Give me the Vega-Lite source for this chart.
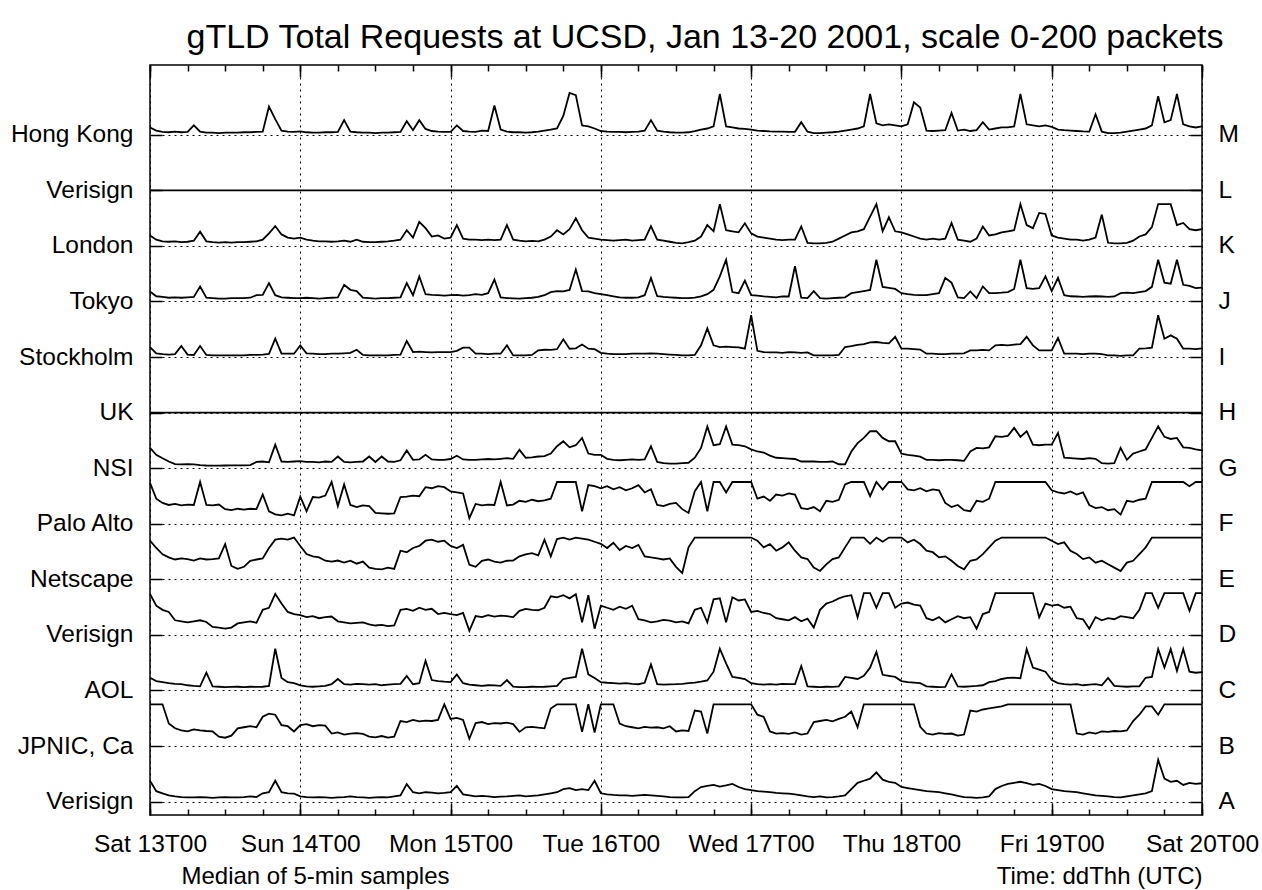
{
"$schema":"https://vega.github.io/schema/vega-lite/v6.json",
"width":1052,"height":750,"autosize":"none",
"padding":{"left":150,"top":65,"right":60,"bottom":75},
"background":"white",
"title":{"text":"gTLD Total Requests at UCSD, Jan 13-20 2001, scale 0-200 packets","fontSize":34,"font":"Liberation Sans","fontWeight":"normal","color":"black","anchor":"middle","frame":"group","dx":29,"baseline":"alphabetic","offset":-18},
"config":{"view":{"stroke":"black","strokeWidth":1.5},"axis":{"labelFont":"Liberation Sans","labelFontSize":24.5,"labelColor":"black","tickColor":"black","tickWidth":1.5,"domain":false,"titleFont":"Liberation Sans","titleFontSize":24,"titleFontWeight":"normal","titleColor":"black","labelFlush":false,"labelOverlap":false,"labelBound":false}},
"data":{"values":[
{"h":0,"A":100,"B":200,"C":61,"D":196,"E":185,"F":196,"G":97,"I":48,"J":48,"K":50,"M":35},
{"h":1,"A":50,"B":200,"C":45,"D":140,"E":150,"F":120,"G":64,"I":18,"J":25,"K":30,"M":20},
{"h":2,"A":40,"B":200,"C":40,"D":120,"E":120,"F":100,"G":48,"I":14,"J":22,"K":22,"M":14},
{"h":3,"A":30,"B":108,"C":35,"D":110,"E":105,"F":90,"G":32,"I":12,"J":18,"K":20,"M":12},
{"h":4,"A":25,"B":85,"C":32,"D":70,"E":95,"F":95,"G":20,"I":14,"J":20,"K":22,"M":15},
{"h":5,"A":22,"B":75,"C":30,"D":65,"E":100,"F":88,"G":18,"I":53,"J":18,"K":18,"M":12},
{"h":6,"A":20,"B":70,"C":25,"D":60,"E":97,"F":92,"G":19,"I":12,"J":20,"K":20,"M":14},
{"h":7,"A":20,"B":80,"C":22,"D":65,"E":90,"F":90,"G":18,"I":10,"J":22,"K":25,"M":45},
{"h":8,"A":22,"B":75,"C":20,"D":70,"E":100,"F":200,"G":15,"I":53,"J":72,"K":68,"M":15},
{"h":9,"A":20,"B":72,"C":85,"D":62,"E":95,"F":90,"G":13,"I":10,"J":18,"K":22,"M":10},
{"h":10,"A":18,"B":70,"C":20,"D":38,"E":97,"F":88,"G":12,"I":8,"J":16,"K":18,"M":10},
{"h":11,"A":20,"B":45,"C":18,"D":35,"E":100,"F":92,"G":12,"I":8,"J":14,"K":16,"M":8},
{"h":12,"A":22,"B":40,"C":16,"D":30,"E":169,"F":70,"G":13,"I":8,"J":14,"K":18,"M":10},
{"h":13,"A":20,"B":50,"C":17,"D":35,"E":64,"F":65,"G":14,"I":8,"J":16,"K":16,"M":10},
{"h":14,"A":20,"B":85,"C":18,"D":55,"E":50,"F":72,"G":14,"I":8,"J":16,"K":18,"M":10},
{"h":15,"A":22,"B":90,"C":16,"D":60,"E":60,"F":68,"G":14,"I":8,"J":16,"K":18,"M":12},
{"h":16,"A":25,"B":95,"C":18,"D":65,"E":89,"F":72,"G":15,"I":10,"J":18,"K":20,"M":12},
{"h":17,"A":22,"B":90,"C":17,"D":58,"E":95,"F":70,"G":30,"I":10,"J":30,"K":22,"M":14},
{"h":18,"A":40,"B":140,"C":18,"D":120,"E":100,"F":140,"G":32,"I":12,"J":32,"K":30,"M":15},
{"h":19,"A":45,"B":155,"C":22,"D":130,"E":150,"F":60,"G":28,"I":15,"J":88,"K":60,"M":135},
{"h":20,"A":100,"B":150,"C":200,"D":196,"E":190,"F":45,"G":113,"I":88,"J":30,"K":95,"M":75},
{"h":21,"A":45,"B":100,"C":60,"D":150,"E":195,"F":40,"G":32,"I":16,"J":20,"K":55,"M":20},
{"h":22,"A":40,"B":95,"C":40,"D":110,"E":190,"F":48,"G":30,"I":16,"J":18,"K":40,"M":15},
{"h":23,"A":38,"B":70,"C":35,"D":100,"E":200,"F":40,"G":32,"I":16,"J":16,"K":35,"M":14},
{"h":24,"A":25,"B":100,"C":25,"D":95,"E":160,"F":130,"G":34,"I":56,"J":16,"K":40,"M":16},
{"h":25,"A":22,"B":105,"C":20,"D":85,"E":121,"F":60,"G":30,"I":18,"J":18,"K":30,"M":12},
{"h":26,"A":20,"B":95,"C":18,"D":90,"E":110,"F":128,"G":30,"I":16,"J":16,"K":25,"M":10},
{"h":27,"A":22,"B":100,"C":20,"D":80,"E":105,"F":125,"G":28,"I":14,"J":14,"K":22,"M":10},
{"h":28,"A":20,"B":98,"C":22,"D":85,"E":89,"F":135,"G":32,"I":14,"J":16,"K":22,"M":12},
{"h":29,"A":18,"B":60,"C":30,"D":88,"E":85,"F":200,"G":30,"I":16,"J":18,"K":20,"M":12},
{"h":30,"A":20,"B":65,"C":55,"D":65,"E":90,"F":85,"G":56,"I":16,"J":20,"K":22,"M":14},
{"h":31,"A":22,"B":55,"C":30,"D":60,"E":80,"F":188,"G":30,"I":18,"J":80,"K":25,"M":70},
{"h":32,"A":25,"B":60,"C":28,"D":55,"E":89,"F":90,"G":28,"I":20,"J":56,"K":20,"M":15},
{"h":33,"A":22,"B":62,"C":32,"D":58,"E":75,"F":80,"G":30,"I":35,"J":50,"K":30,"M":12},
{"h":34,"A":20,"B":58,"C":30,"D":60,"E":85,"F":88,"G":32,"I":10,"J":18,"K":20,"M":10},
{"h":35,"A":18,"B":45,"C":28,"D":50,"E":56,"F":85,"G":56,"I":8,"J":16,"K":18,"M":10},
{"h":36,"A":20,"B":42,"C":30,"D":45,"E":50,"F":52,"G":30,"I":8,"J":14,"K":18,"M":8},
{"h":37,"A":22,"B":48,"C":25,"D":48,"E":48,"F":50,"G":56,"I":8,"J":16,"K":20,"M":10},
{"h":38,"A":20,"B":40,"C":28,"D":42,"E":56,"F":48,"G":32,"I":8,"J":16,"K":22,"M":10},
{"h":39,"A":25,"B":45,"C":30,"D":45,"E":50,"F":50,"G":30,"I":10,"J":18,"K":25,"M":12},
{"h":40,"A":30,"B":120,"C":32,"D":120,"E":137,"F":128,"G":38,"I":12,"J":20,"K":30,"M":14},
{"h":41,"A":84,"B":115,"C":70,"D":125,"E":130,"F":130,"G":85,"I":77,"J":88,"K":75,"M":65},
{"h":42,"A":45,"B":125,"C":30,"D":115,"E":150,"F":135,"G":40,"I":24,"J":30,"K":40,"M":22},
{"h":43,"A":40,"B":118,"C":35,"D":130,"E":160,"F":132,"G":42,"I":26,"J":120,"K":115,"M":70},
{"h":44,"A":45,"B":122,"C":142,"D":120,"E":185,"F":175,"G":64,"I":24,"J":35,"K":85,"M":28},
{"h":45,"A":43,"B":120,"C":50,"D":125,"E":190,"F":170,"G":42,"I":22,"J":32,"K":45,"M":18},
{"h":46,"A":40,"B":125,"C":45,"D":100,"E":180,"F":180,"G":40,"I":24,"J":30,"K":50,"M":15},
{"h":47,"A":42,"B":200,"C":42,"D":105,"E":185,"F":175,"G":40,"I":24,"J":28,"K":35,"M":14},
{"h":48,"A":45,"B":130,"C":40,"D":100,"E":160,"F":155,"G":44,"I":24,"J":30,"K":40,"M":14},
{"h":49,"A":75,"B":135,"C":77,"D":95,"E":150,"F":150,"G":60,"I":30,"J":32,"K":100,"M":45},
{"h":50,"A":35,"B":125,"C":35,"D":105,"E":165,"F":145,"G":42,"I":45,"J":28,"K":35,"M":18},
{"h":51,"A":30,"B":35,"C":28,"D":20,"E":70,"F":27,"G":40,"I":45,"J":30,"K":30,"M":15},
{"h":52,"A":25,"B":110,"C":25,"D":90,"E":60,"F":95,"G":40,"I":16,"J":35,"K":30,"M":14},
{"h":53,"A":28,"B":115,"C":22,"D":85,"E":89,"F":88,"G":42,"I":16,"J":32,"K":28,"M":20},
{"h":54,"A":25,"B":105,"C":25,"D":95,"E":95,"F":92,"G":44,"I":14,"J":40,"K":30,"M":18},
{"h":55,"A":22,"B":110,"C":24,"D":88,"E":85,"F":90,"G":42,"I":16,"J":105,"K":28,"M":140},
{"h":56,"A":24,"B":108,"C":22,"D":92,"E":80,"F":200,"G":45,"I":16,"J":20,"K":30,"M":25},
{"h":57,"A":25,"B":112,"C":50,"D":90,"E":89,"F":88,"G":48,"I":56,"J":16,"K":100,"M":15},
{"h":58,"A":28,"B":105,"C":18,"D":85,"E":90,"F":92,"G":45,"I":8,"J":15,"K":30,"M":12},
{"h":59,"A":30,"B":68,"C":16,"D":115,"E":110,"F":110,"G":88,"I":8,"J":14,"K":25,"M":12},
{"h":60,"A":25,"B":90,"C":16,"D":125,"E":120,"F":105,"G":50,"I":8,"J":16,"K":22,"M":10},
{"h":61,"A":28,"B":92,"C":18,"D":120,"E":125,"F":115,"G":52,"I":10,"J":18,"K":24,"M":12},
{"h":62,"A":30,"B":88,"C":17,"D":118,"E":115,"F":108,"G":56,"I":32,"J":22,"K":22,"M":15},
{"h":63,"A":35,"B":85,"C":18,"D":130,"E":190,"F":112,"G":58,"I":35,"J":30,"K":30,"M":20},
{"h":64,"A":40,"B":180,"C":20,"D":185,"E":110,"F":120,"G":70,"I":34,"J":45,"K":45,"M":25},
{"h":65,"A":45,"B":200,"C":22,"D":180,"E":193,"F":200,"G":105,"I":38,"J":50,"K":75,"M":30},
{"h":66,"A":60,"B":200,"C":55,"D":190,"E":200,"F":200,"G":129,"I":85,"J":48,"K":55,"M":90},
{"h":67,"A":65,"B":200,"C":60,"D":175,"E":190,"F":200,"G":100,"I":40,"J":55,"K":80,"M":200},
{"h":68,"A":55,"B":200,"C":65,"D":195,"E":200,"F":200,"G":110,"I":42,"J":153,"K":132,"M":190},
{"h":69,"A":60,"B":68,"C":200,"D":60,"E":195,"F":60,"G":145,"I":60,"J":50,"K":75,"M":45},
{"h":70,"A":55,"B":200,"C":77,"D":190,"E":190,"F":185,"G":70,"I":40,"J":48,"K":40,"M":40},
{"h":71,"A":100,"B":65,"C":60,"D":30,"E":180,"F":180,"G":64,"I":38,"J":40,"K":35,"M":30},
{"h":72,"A":40,"B":200,"C":40,"D":140,"E":170,"F":170,"G":64,"I":20,"J":35,"K":30,"M":18},
{"h":73,"A":35,"B":200,"C":37,"D":130,"E":150,"F":180,"G":45,"I":16,"J":30,"K":28,"M":15},
{"h":74,"A":32,"B":200,"C":35,"D":120,"E":175,"F":165,"G":40,"I":14,"J":25,"K":25,"M":14},
{"h":75,"A":30,"B":108,"C":33,"D":135,"E":140,"F":175,"G":38,"I":14,"J":20,"K":28,"M":14},
{"h":76,"A":30,"B":95,"C":35,"D":125,"E":160,"F":160,"G":40,"I":14,"J":18,"K":30,"M":12},
{"h":77,"A":28,"B":90,"C":32,"D":140,"E":150,"F":170,"G":42,"I":16,"J":18,"K":25,"M":14},
{"h":78,"A":30,"B":85,"C":30,"D":75,"E":165,"F":185,"G":40,"I":16,"J":20,"K":28,"M":15},
{"h":79,"A":32,"B":92,"C":37,"D":70,"E":110,"F":150,"G":42,"I":16,"J":30,"K":30,"M":20},
{"h":80,"A":30,"B":88,"C":125,"D":60,"E":105,"F":165,"G":105,"I":18,"J":113,"K":95,"M":70},
{"h":81,"A":28,"B":90,"C":30,"D":65,"E":100,"F":90,"G":30,"I":16,"J":25,"K":30,"M":20},
{"h":82,"A":25,"B":85,"C":28,"D":72,"E":95,"F":85,"G":24,"I":14,"J":22,"K":25,"M":15},
{"h":83,"A":22,"B":95,"C":29,"D":68,"E":100,"F":95,"G":22,"I":12,"J":20,"K":20,"M":12},
{"h":84,"A":20,"B":70,"C":30,"D":60,"E":60,"F":100,"G":22,"I":10,"J":18,"K":15,"M":10},
{"h":85,"A":20,"B":75,"C":32,"D":65,"E":30,"F":70,"G":24,"I":8,"J":16,"K":12,"M":10},
{"h":86,"A":22,"B":72,"C":35,"D":55,"E":153,"F":52,"G":26,"I":8,"J":16,"K":18,"M":12},
{"h":87,"A":50,"B":170,"C":38,"D":120,"E":200,"F":156,"G":50,"I":10,"J":18,"K":25,"M":18},
{"h":88,"A":70,"B":165,"C":42,"D":130,"E":200,"F":200,"G":97,"I":56,"J":25,"K":45,"M":25},
{"h":89,"A":75,"B":60,"C":48,"D":60,"E":200,"F":60,"G":200,"I":137,"J":35,"K":100,"M":30},
{"h":90,"A":80,"B":200,"C":90,"D":170,"E":200,"F":200,"G":110,"I":56,"J":56,"K":70,"M":40},
{"h":91,"A":72,"B":200,"C":200,"D":175,"E":200,"F":200,"G":115,"I":48,"J":120,"K":200,"M":195},
{"h":92,"A":78,"B":200,"C":130,"D":60,"E":200,"F":150,"G":200,"I":50,"J":200,"K":75,"M":40},
{"h":93,"A":85,"B":200,"C":65,"D":180,"E":200,"F":200,"G":113,"I":48,"J":45,"K":70,"M":35},
{"h":94,"A":70,"B":200,"C":60,"D":165,"E":200,"F":200,"G":110,"I":46,"J":40,"K":65,"M":30},
{"h":95,"A":60,"B":200,"C":55,"D":170,"E":200,"F":200,"G":105,"I":40,"J":100,"K":108,"M":28},
{"h":96,"A":55,"B":200,"C":35,"D":110,"E":200,"F":200,"G":90,"I":200,"J":30,"K":60,"M":25},
{"h":97,"A":50,"B":150,"C":30,"D":115,"E":185,"F":120,"G":80,"I":30,"J":28,"K":45,"M":20},
{"h":98,"A":48,"B":140,"C":28,"D":105,"E":153,"F":130,"G":75,"I":24,"J":24,"K":40,"M":18},
{"h":99,"A":45,"B":70,"C":30,"D":100,"E":169,"F":110,"G":60,"I":22,"J":22,"K":35,"M":16},
{"h":100,"A":42,"B":60,"C":28,"D":80,"E":137,"F":140,"G":50,"I":22,"J":20,"K":30,"M":15},
{"h":101,"A":40,"B":62,"C":32,"D":75,"E":153,"F":135,"G":48,"I":20,"J":24,"K":28,"M":15},
{"h":102,"A":38,"B":58,"C":30,"D":70,"E":177,"F":145,"G":46,"I":24,"J":24,"K":30,"M":14},
{"h":103,"A":35,"B":65,"C":30,"D":85,"E":137,"F":140,"G":44,"I":22,"J":169,"K":30,"M":14},
{"h":104,"A":30,"B":55,"C":117,"D":65,"E":105,"F":75,"G":32,"I":20,"J":18,"K":93,"M":60},
{"h":105,"A":25,"B":60,"C":20,"D":78,"E":97,"F":70,"G":32,"I":22,"J":16,"K":15,"M":15},
{"h":106,"A":22,"B":115,"C":18,"D":35,"E":56,"F":80,"G":32,"I":8,"J":50,"K":12,"M":8},
{"h":107,"A":25,"B":120,"C":16,"D":120,"E":40,"F":60,"G":30,"I":8,"J":16,"K":12,"M":8},
{"h":108,"A":20,"B":125,"C":18,"D":150,"E":72,"F":110,"G":30,"I":8,"J":14,"K":15,"M":10},
{"h":109,"A":22,"B":118,"C":17,"D":160,"E":97,"F":105,"G":32,"I":8,"J":16,"K":20,"M":12},
{"h":110,"A":25,"B":130,"C":20,"D":175,"E":105,"F":115,"G":19,"I":10,"J":18,"K":35,"M":15},
{"h":111,"A":30,"B":140,"C":65,"D":185,"E":153,"F":188,"G":18,"I":48,"J":20,"K":50,"M":20},
{"h":112,"A":60,"B":165,"C":60,"D":190,"E":200,"F":200,"G":80,"I":52,"J":40,"K":65,"M":25},
{"h":113,"A":90,"B":90,"C":55,"D":84,"E":200,"F":200,"G":120,"I":58,"J":45,"K":70,"M":30},
{"h":114,"A":100,"B":200,"C":70,"D":200,"E":200,"F":200,"G":145,"I":62,"J":50,"K":80,"M":40},
{"h":115,"A":110,"B":200,"C":110,"D":200,"E":170,"F":132,"G":177,"I":70,"J":55,"K":140,"M":195},
{"h":116,"A":140,"B":200,"C":185,"D":130,"E":200,"F":200,"G":177,"I":72,"J":200,"K":200,"M":55},
{"h":117,"A":105,"B":200,"C":75,"D":200,"E":180,"F":164,"G":145,"I":68,"J":70,"K":70,"M":45},
{"h":118,"A":95,"B":200,"C":70,"D":200,"E":200,"F":200,"G":129,"I":66,"J":65,"K":137,"M":50},
{"h":119,"A":90,"B":200,"C":65,"D":130,"E":200,"F":200,"G":129,"I":97,"J":60,"K":70,"M":45},
{"h":120,"A":70,"B":200,"C":45,"D":150,"E":200,"F":200,"G":70,"I":40,"J":40,"K":65,"M":40},
{"h":121,"A":65,"B":200,"C":40,"D":155,"E":177,"F":165,"G":64,"I":40,"J":35,"K":55,"M":50},
{"h":122,"A":60,"B":200,"C":38,"D":145,"E":190,"F":160,"G":60,"I":38,"J":32,"K":45,"M":155},
{"h":123,"A":55,"B":92,"C":35,"D":140,"E":169,"F":170,"G":55,"I":36,"J":30,"K":35,"M":130},
{"h":124,"A":50,"B":60,"C":20,"D":80,"E":137,"F":155,"G":40,"I":16,"J":30,"K":30,"M":20},
{"h":125,"A":48,"B":55,"C":18,"D":70,"E":130,"F":165,"G":40,"I":16,"J":35,"K":35,"M":18},
{"h":126,"A":45,"B":62,"C":16,"D":85,"E":105,"F":160,"G":38,"I":14,"J":40,"K":30,"M":20},
{"h":127,"A":40,"B":58,"C":17,"D":60,"E":110,"F":100,"G":40,"I":14,"J":113,"K":35,"M":22},
{"h":128,"A":35,"B":60,"C":77,"D":75,"E":89,"F":80,"G":40,"I":16,"J":90,"K":110,"M":105},
{"h":129,"A":28,"B":50,"C":20,"D":90,"E":64,"F":90,"G":38,"I":16,"J":20,"K":30,"M":20},
{"h":130,"A":22,"B":55,"C":18,"D":80,"E":48,"F":65,"G":35,"I":18,"J":16,"K":25,"M":25},
{"h":131,"A":20,"B":170,"C":20,"D":85,"E":89,"F":60,"G":80,"I":32,"J":48,"K":20,"M":18},
{"h":132,"A":18,"B":165,"C":22,"D":30,"E":95,"F":110,"G":97,"I":32,"J":16,"K":35,"M":22},
{"h":133,"A":20,"B":175,"C":25,"D":100,"E":121,"F":105,"G":95,"I":34,"J":72,"K":93,"M":60},
{"h":134,"A":25,"B":180,"C":40,"D":110,"E":153,"F":120,"G":100,"I":32,"J":40,"K":50,"M":25},
{"h":135,"A":60,"B":185,"C":45,"D":200,"E":185,"F":200,"G":153,"I":56,"J":40,"K":55,"M":30},
{"h":136,"A":75,"B":190,"C":55,"D":200,"E":200,"F":200,"G":150,"I":58,"J":42,"K":65,"M":35},
{"h":137,"A":85,"B":200,"C":60,"D":200,"E":200,"F":200,"G":155,"I":56,"J":45,"K":70,"M":35},
{"h":138,"A":90,"B":200,"C":62,"D":200,"E":200,"F":200,"G":193,"I":60,"J":60,"K":75,"M":40},
{"h":139,"A":95,"B":200,"C":58,"D":200,"E":200,"F":200,"G":150,"I":62,"J":200,"K":200,"M":195},
{"h":140,"A":88,"B":200,"C":198,"D":200,"E":200,"F":200,"G":177,"I":97,"J":64,"K":100,"M":50},
{"h":141,"A":80,"B":200,"C":110,"D":200,"E":200,"F":200,"G":113,"I":56,"J":60,"K":85,"M":45},
{"h":142,"A":85,"B":200,"C":100,"D":84,"E":200,"F":200,"G":110,"I":32,"J":64,"K":158,"M":40},
{"h":143,"A":75,"B":200,"C":90,"D":150,"E":200,"F":200,"G":113,"I":32,"J":120,"K":153,"M":45},
{"h":144,"A":60,"B":200,"C":50,"D":140,"E":185,"F":160,"G":113,"I":32,"J":50,"K":50,"M":38},
{"h":145,"A":55,"B":200,"C":35,"D":145,"E":169,"F":150,"G":169,"I":92,"J":113,"K":40,"M":25},
{"h":146,"A":50,"B":200,"C":30,"D":130,"E":177,"F":145,"G":50,"I":16,"J":30,"K":35,"M":22},
{"h":147,"A":48,"B":200,"C":28,"D":135,"E":137,"F":155,"G":48,"I":16,"J":25,"K":30,"M":20},
{"h":148,"A":45,"B":60,"C":30,"D":80,"E":121,"F":140,"G":46,"I":16,"J":24,"K":30,"M":18},
{"h":149,"A":40,"B":55,"C":25,"D":75,"E":97,"F":150,"G":44,"I":14,"J":22,"K":25,"M":16},
{"h":150,"A":35,"B":65,"C":28,"D":30,"E":105,"F":90,"G":48,"I":16,"J":24,"K":30,"M":15},
{"h":151,"A":30,"B":60,"C":30,"D":85,"E":80,"F":75,"G":45,"I":16,"J":25,"K":40,"M":98},
{"h":152,"A":28,"B":70,"C":25,"D":70,"E":89,"F":80,"G":24,"I":14,"J":24,"K":150,"M":15},
{"h":153,"A":25,"B":68,"C":60,"D":80,"E":72,"F":65,"G":22,"I":8,"J":22,"K":15,"M":8},
{"h":154,"A":22,"B":72,"C":22,"D":75,"E":56,"F":70,"G":24,"I":8,"J":24,"K":12,"M":8},
{"h":155,"A":20,"B":70,"C":20,"D":90,"E":40,"F":44,"G":97,"I":6,"J":40,"K":12,"M":10},
{"h":156,"A":25,"B":75,"C":18,"D":85,"E":80,"F":110,"G":40,"I":8,"J":42,"K":15,"M":15},
{"h":157,"A":30,"B":120,"C":20,"D":80,"E":89,"F":105,"G":70,"I":8,"J":40,"K":25,"M":20},
{"h":158,"A":35,"B":150,"C":20,"D":120,"E":121,"F":115,"G":80,"I":40,"J":45,"K":45,"M":25},
{"h":159,"A":40,"B":190,"C":61,"D":200,"E":153,"F":120,"G":90,"I":42,"J":50,"K":55,"M":30},
{"h":160,"A":50,"B":190,"C":65,"D":200,"E":200,"F":200,"G":145,"I":45,"J":70,"K":90,"M":45},
{"h":161,"A":200,"B":150,"C":198,"D":130,"E":200,"F":200,"G":200,"I":200,"J":200,"K":200,"M":185},
{"h":162,"A":110,"B":200,"C":110,"D":200,"E":200,"F":200,"G":150,"I":88,"J":90,"K":200,"M":60},
{"h":163,"A":95,"B":200,"C":198,"D":200,"E":200,"F":200,"G":140,"I":104,"J":85,"K":200,"M":70},
{"h":164,"A":100,"B":200,"C":93,"D":200,"E":200,"F":200,"G":145,"I":88,"J":200,"K":100,"M":195},
{"h":165,"A":80,"B":200,"C":198,"D":200,"E":200,"F":200,"G":100,"I":40,"J":80,"K":110,"M":50},
{"h":166,"A":90,"B":200,"C":90,"D":115,"E":200,"F":180,"G":97,"I":40,"J":75,"K":80,"M":40},
{"h":167,"A":85,"B":200,"C":85,"D":200,"E":200,"F":200,"G":90,"I":38,"J":64,"K":75,"M":35},
{"h":168,"A":88,"B":200,"C":88,"D":200,"E":200,"F":200,"G":85,"I":42,"J":66,"K":80,"M":40}
]},
"layer":[
{"data":{"values":[{"series":"H"}]},"mark":{"type":"rule","color":"black","strokeWidth":1.6},
 "encoding":{"y":{"datum":7,"type":"quantitative","scale":{"domain":[-0.2406,13.2556],"nice":false,"zero":false},
  "axis":{"orient":"left","values":[0,1,2,3,4,5,6,7,8,9,10,11,12],"labelExpr":"['Verisign','JPNIC, Ca','AOL','Verisign','Netscape','Palo Alto','NSI','UK','Stockholm','Tokyo','London','Verisign','Hong Kong'][datum.value]","tickSize":-12,"labelPadding":29,"grid":true,"gridDash":[2,4],"gridColor":"black","gridWidth":1,"gridOpacity":1,"title":null}}}},
{"data":{"values":[{"series":"L"}]},"mark":{"type":"rule","color":"black","strokeWidth":1.6},
 "encoding":{"y":{"datum":11,"type":"quantitative","scale":{"domain":[-0.2406,13.2556],"nice":false,"zero":false},
  "axis":{"orient":"right","values":[0,1,2,3,4,5,6,7,8,9,10,11,12],"labelExpr":"['A','B','C','D','E','F','G','H','I','J','K','L','M'][datum.value]","tickSize":-12,"labelPadding":28,"grid":false,"title":null}}}},
{"mark":{"type":"line","color":"black","strokeWidth":1.8},
 "encoding":{"x":{"field":"h","type":"quantitative","scale":{"domain":[0,168],"nice":false,"zero":false},
  "axis":{"orient":"bottom","values":[0,24,48,72,96,120,144,168],"labelExpr":"['Sat 13T00','Sun 14T00','Mon 15T00','Tue 16T00','Wed 17T00','Thu 18T00','Fri 19T00','Sat 20T00'][datum.value/24]","tickSize":-12,"labelPadding":29,"grid":true,"gridDash":[2,4],"gridColor":"black","gridWidth":1,"gridOpacity":1,"title":"Median of 5-min samples","titleX":165,"titleY":61,"titleAlign":"center","titleBaseline":"middle","titleAnchor":"start"}},
  "y":{"field":"A","type":"quantitative","scale":{"domain":[-64,3526],"nice":false,"zero":false},"axis":null}}},
{"mark":{"type":"line","color":"black","strokeWidth":1.8},
 "encoding":{"x":{"field":"h","type":"quantitative","scale":{"domain":[0,168],"nice":false,"zero":false},
  "axis":{"orient":"bottom","values":[0,6,12,18,24,30,36,42,48,54,60,66,72,78,84,90,96,102,108,114,120,126,132,138,144,150,156,162,168],"labels":false,"tickSize":-6,"grid":false,"title":"Time: ddThh (UTC)","titleX":1052,"titleY":61,"titleAlign":"right","titleBaseline":"middle","titleAnchor":"end"}},
  "y":{"field":"B","type":"quantitative","scale":{"domain":[-330,3260],"nice":false,"zero":false},"axis":null}}},
{"mark":{"type":"line","color":"black","strokeWidth":1.8},
 "encoding":{"x":{"field":"h","type":"quantitative","scale":{"domain":[0,168],"nice":false,"zero":false},
  "axis":{"orient":"top","values":[0,24,48,72,96,120,144,168],"labels":false,"tickSize":-12,"grid":false,"title":null}},
  "y":{"field":"C","type":"quantitative","scale":{"domain":[-596,2994],"nice":false,"zero":false},"axis":null}}},
{"mark":{"type":"line","color":"black","strokeWidth":1.8},
 "encoding":{"x":{"field":"h","type":"quantitative","scale":{"domain":[0,168],"nice":false,"zero":false},
  "axis":{"orient":"top","values":[0,6,12,18,24,30,36,42,48,54,60,66,72,78,84,90,96,102,108,114,120,126,132,138,144,150,156,162,168],"labels":false,"tickSize":-6,"grid":false,"title":null}},
  "y":{"field":"D","type":"quantitative","scale":{"domain":[-862,2728],"nice":false,"zero":false},"axis":null}}},
{"mark":{"type":"line","color":"black","strokeWidth":1.8},
 "encoding":{"x":{"field":"h","type":"quantitative","scale":{"domain":[0,168],"nice":false,"zero":false},"axis":null},
  "y":{"field":"E","type":"quantitative","scale":{"domain":[-1128,2462],"nice":false,"zero":false},"axis":null}}},
{"mark":{"type":"line","color":"black","strokeWidth":1.8},
 "encoding":{"x":{"field":"h","type":"quantitative","scale":{"domain":[0,168],"nice":false,"zero":false},"axis":null},
  "y":{"field":"F","type":"quantitative","scale":{"domain":[-1394,2196],"nice":false,"zero":false},"axis":null}}},
{"mark":{"type":"line","color":"black","strokeWidth":1.8},
 "encoding":{"x":{"field":"h","type":"quantitative","scale":{"domain":[0,168],"nice":false,"zero":false},"axis":null},
  "y":{"field":"G","type":"quantitative","scale":{"domain":[-1660,1930],"nice":false,"zero":false},"axis":null}}},
{"mark":{"type":"line","color":"black","strokeWidth":1.8},
 "encoding":{"x":{"field":"h","type":"quantitative","scale":{"domain":[0,168],"nice":false,"zero":false},"axis":null},
  "y":{"field":"I","type":"quantitative","scale":{"domain":[-2192,1398],"nice":false,"zero":false},"axis":null}}},
{"mark":{"type":"line","color":"black","strokeWidth":1.8},
 "encoding":{"x":{"field":"h","type":"quantitative","scale":{"domain":[0,168],"nice":false,"zero":false},"axis":null},
  "y":{"field":"J","type":"quantitative","scale":{"domain":[-2458,1132],"nice":false,"zero":false},"axis":null}}},
{"mark":{"type":"line","color":"black","strokeWidth":1.8},
 "encoding":{"x":{"field":"h","type":"quantitative","scale":{"domain":[0,168],"nice":false,"zero":false},"axis":null},
  "y":{"field":"K","type":"quantitative","scale":{"domain":[-2724,866],"nice":false,"zero":false},"axis":null}}},
{"mark":{"type":"line","color":"black","strokeWidth":1.8},
 "encoding":{"x":{"field":"h","type":"quantitative","scale":{"domain":[0,168],"nice":false,"zero":false},"axis":null},
  "y":{"field":"M","type":"quantitative","scale":{"domain":[-3256,334],"nice":false,"zero":false},"axis":null}}}
],
"resolve":{"scale":{"x":"independent","y":"independent"}}
}
